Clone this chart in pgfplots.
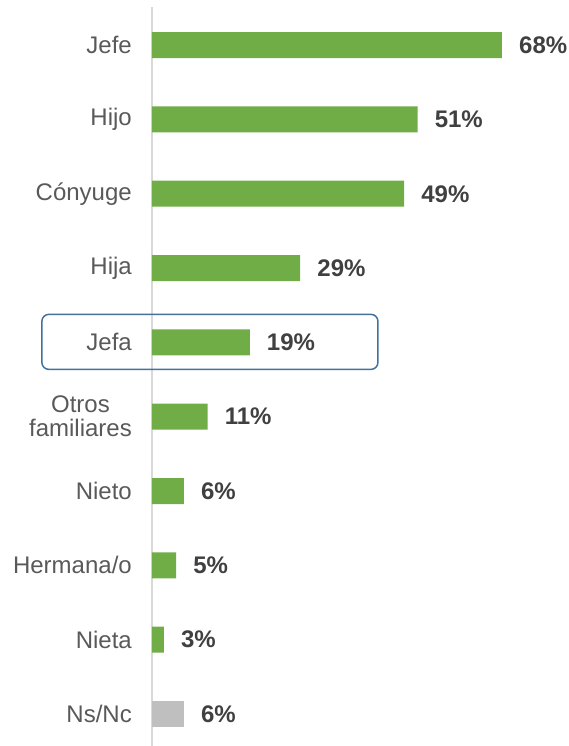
\documentclass[border=0pt]{standalone}
\usepackage{fontspec}
\setmainfont{Liberation Sans}
\usepackage{pgfplots}
\pgfplotsset{compat=1.18}
\definecolor{Bar}{HTML}{70AD47}
\definecolor{NoAns}{HTML}{BFBFBF}
\definecolor{AxisGray}{HTML}{D9D9D9}
\definecolor{Label}{HTML}{595959}
\definecolor{Value}{HTML}{404040}
\definecolor{Frame}{HTML}{41719C}

\pgfplotstableread{
pos val lab
1 68.0 68\%
2 51.6 51\%
3 49.0 49\%
4 28.8 29\%
5 19.0 19\%
6 10.8 11\%
7 6.2 6\%
8 4.7 5\%
9 2.3 3\%
}\parentesco
\pgfplotstableread{
pos val lab
10 6.2 6\%
}\nsnc

\begin{document}
\begin{tikzpicture}
  \begin{axis}[
      name=ax,
      scale only axis,
      width=411.76pt, height=738.9pt,
      xmin=0, xmax=80,
      ymin=0.489, ymax=10.43,
      y dir=reverse,
      xbar, bar width=26pt, bar shift=0pt,
      axis x line=none,
      axis y line*=left,
      y axis line style={draw=AxisGray, line width=1.5pt},
      ytick={1,...,10},
      yticklabels={Jefe,Hijo,Cónyuge,Hija,Jefa,{Otros\\familiares},Nieto,Hermana/o,Nieta,Ns/Nc},
      major tick length=0pt,
      yticklabel style={anchor=east, inner sep=0pt, xshift=-20pt, align=center,
        font=\fontsize{24}{24}\selectfont, text=Label},
      nodes near coords,
      point meta=explicit symbolic,
      nodes near coords style={anchor=west, inner sep=0pt, xshift=17pt,
        font=\fontsize{24}{26}\selectfont\bfseries, text=Value},
      clip=false]
    \addplot[fill=Bar, draw=none] table[x=val, y=pos, meta=lab] {\parentesco};
    \addplot[fill=NoAns, draw=none] table[x=val, y=pos, meta=lab] {\nsnc};
    \draw[Frame, line width=1.5pt, rounded corners=7pt]
      (axis cs:-21.4,4.623) rectangle (axis cs:43.9,5.363);
  \end{axis}
  \pgfresetboundingbox
  \path (ax.south west) ++(-152pt,0pt) rectangle ++(569pt,746pt);
\end{tikzpicture}
\end{document}
